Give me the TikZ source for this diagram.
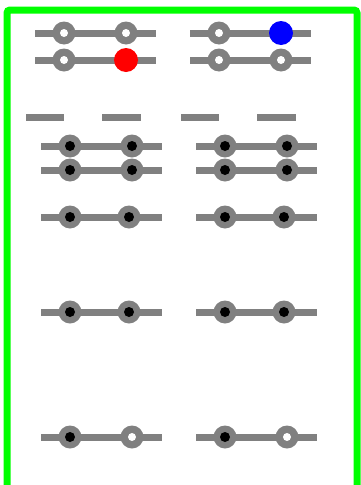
\documentclass[tikz,border=0pt]{standalone}
\usetikzlibrary{backgrounds}
\definecolor{frame}{RGB}{0,255,0}
\tikzset{
  bar/.style={draw=gray, line width=7pt, line cap=butt},
  hub/.style={circle, fill=gray, minimum size=23pt, inner sep=0pt},
  ring/.style={hub, path picture={\fill[white] (path picture bounding box.center) circle (4pt);}},
  pin/.style={hub, path picture={\fill[black] (path picture bounding box.center) circle (5pt);}},
  lamp/.style={circle, fill=#1, minimum size=24pt, inner sep=0pt},
  tick/.style={draw=gray, line width=7pt, line cap=butt},
}
\begin{document}
\begin{tikzpicture}[x=1pt, y=-1pt]
\useasboundingbox (0,0) rectangle (361,485);

% outer frame, open at the bottom
\draw[frame, line width=7pt, rounded corners=3pt] (7,485) -- (7,10) -- (357,10) -- (357,485);

% --- top switches ---
\coordinate (a1l) at (35,33);  \coordinate (a1r) at (156,33);
\node[ring] (a1p) at (64,33) {};  \node[ring] (a1q) at (126,33) {};
\coordinate (a2l) at (35,60);  \coordinate (a2r) at (156,60);
\node[ring] (a2p) at (64,60) {};  \node[lamp=red] (a2q) at (126,60) {};
\coordinate (b1l) at (190,33); \coordinate (b1r) at (311,33);
\node[ring] (b1p) at (219,33) {}; \node[lamp=blue] (b1q) at (281,33) {};
\coordinate (b2l) at (190,60); \coordinate (b2r) at (311,60);
\node[ring] (b2p) at (219,60) {}; \node[ring] (b2q) at (281,60) {};

% --- dashes ---
\coordinate (d1l) at (26,117);  \coordinate (d1r) at (64,117);
\coordinate (d2l) at (102,117); \coordinate (d2r) at (141,117);
\coordinate (d3l) at (181,117); \coordinate (d3r) at (219,117);
\coordinate (d4l) at (257,117); \coordinate (d4r) at (296,117);

% --- lower switches ---
\coordinate (c1l) at (41,146);  \coordinate (c1r) at (162,146);
\node[pin] (c1p) at (70,146) {};  \node[pin] (c1q) at (132,146) {};
\coordinate (e1l) at (196,146); \coordinate (e1r) at (317,146);
\node[pin] (e1p) at (225,146) {}; \node[pin] (e1q) at (287,146) {};

\coordinate (c2l) at (41,170);  \coordinate (c2r) at (162,170);
\node[pin] (c2p) at (70,170) {};  \node[pin] (c2q) at (132,170) {};
\coordinate (e2l) at (196,170); \coordinate (e2r) at (317,170);
\node[pin] (e2p) at (225,170) {}; \node[pin] (e2q) at (287,170) {};

\coordinate (c3l) at (41,217);  \coordinate (c3r) at (162,217);
\node[pin] (c3p) at (70,217) {};  \node[pin] (c3q) at (129,217) {};
\coordinate (e3l) at (196,217); \coordinate (e3r) at (317,217);
\node[pin] (e3p) at (225,217) {}; \node[pin] (e3q) at (284,217) {};

\coordinate (c4l) at (41,312);  \coordinate (c4r) at (162,312);
\node[pin] (c4p) at (70,312) {};  \node[pin] (c4q) at (129,312) {};
\coordinate (e4l) at (196,312); \coordinate (e4r) at (317,312);
\node[pin] (e4p) at (225,312) {}; \node[pin] (e4q) at (284,312) {};

\coordinate (c5l) at (41,437);  \coordinate (c5r) at (162,437);
\node[pin] (c5p) at (70,437) {};  \node[ring] (c5q) at (132,437) {};
\coordinate (e5l) at (196,437); \coordinate (e5r) at (317,437);
\node[pin] (e5p) at (225,437) {}; \node[ring] (e5q) at (287,437) {};

\begin{scope}[on background layer]
  \foreach \r in {a1,a2,b1,b2,c1,c2,c3,c4,c5,e1,e2,e3,e4,e5}
    \draw[bar] (\r l.center) -- (\r p.center) -- (\r q.center) -- (\r r.center);
  \foreach \r in {d1,d2,d3,d4}
    \draw[tick] (\r l) -- (\r r);
\end{scope}
\end{tikzpicture}
\end{document}
